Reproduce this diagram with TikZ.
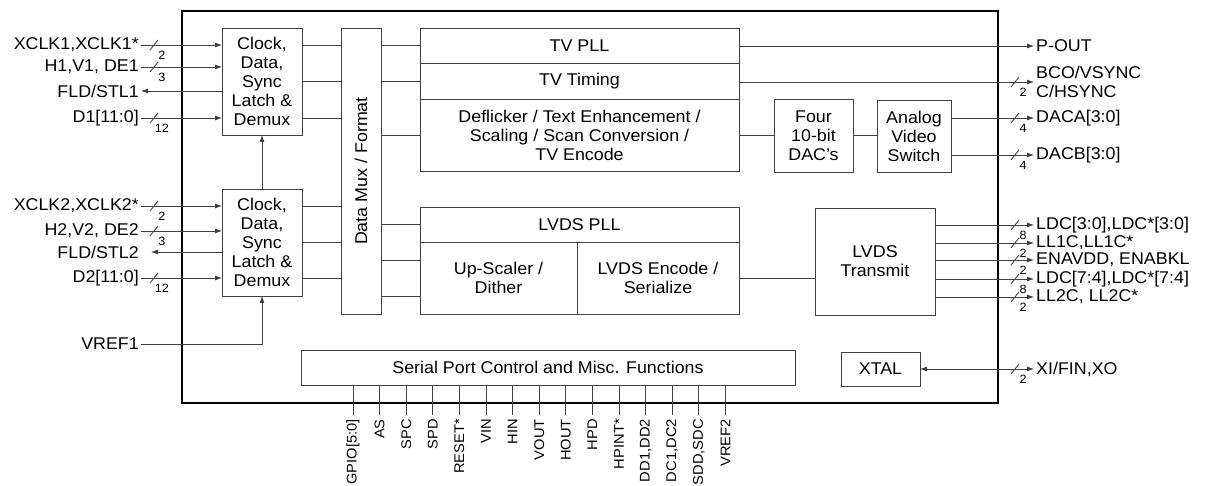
\documentclass[tikz,border=0pt]{standalone}
\usepackage{fontspec}
\setmainfont{Liberation Sans}[FakeStretch=1.05]
\usetikzlibrary{positioning}
\usetikzlibrary{arrows.meta}
\newcommand{\lbl}{\fontsize{17}{19}\selectfont}
\newcommand{\pinf}{\fontsize{14}{15}\selectfont}
\newcommand{\busf}{\fontsize{12}{12}\selectfont}
\tikzset{
  blk/.style={draw=black!75, line width=0.8pt, inner sep=0pt, outer sep=0pt, align=center, font=\lbl},
  wire/.style={draw=black!75, line width=0.8pt},
  inl/.style={anchor=east, inner sep=2pt, font=\lbl},
  outl/.style={anchor=west, inner sep=2pt, font=\lbl, align=left},
  pinl/.style={rotate=90, anchor=east, inner sep=1pt, font=\pinf},
  pics/bus/.style={code={
    \draw[wire] (-4,5) -- (4,-5);
    \node[font=\busf, inner sep=0pt] at (8,10) {#1};}}
}
\begin{document}
\begin{tikzpicture}[x=1pt, y=-1pt, >={Latex[length=7pt,width=5pt]}]
  \useasboundingbox (0,0) rectangle (1211,486);
  \node[draw, line width=2.5pt, minimum width=816pt, minimum height=392pt, inner sep=0pt] (chip) at (590,207) {};

  % latches and mux
  \node[blk, minimum width=80pt, minimum height=107pt] (clk1) at (262,81.5) {Clock,\\Data,\\Sync\\Latch \&\\Demux};
  \node[blk, minimum width=80pt, minimum height=107pt] (clk2) at (262,242.5) {Clock,\\Data,\\Sync\\Latch \&\\Demux};
  \node[blk, minimum width=40pt, minimum height=286pt] (mux) at (361,171) {};
  \node[rotate=90, font=\lbl] (muxlbl) at (mux) {Data Mux / Format};

  % TV path
  \node[blk, minimum width=319pt, minimum height=35pt] (tvpll) at (579.5,45.5) {TV PLL};
  \node[blk, minimum width=319pt, minimum height=36pt, below=0pt of tvpll] (tvtim) {TV Timing};
  \node[blk, minimum width=319pt, minimum height=72pt, below=0pt of tvtim] (defl) {Deflicker / Text Enhancement /\\Scaling / Scan Conversion /\\TV Encode};
  \node[blk, minimum width=79pt, minimum height=73pt] (dac) at (813.5,135.5) {Four\\10-bit\\DAC's};
  \node[blk, minimum width=74pt, minimum height=72pt] (avs) at (914,136) {Analog\\Video\\Switch};

  % LVDS path
  \node[blk, minimum width=319pt, minimum height=35pt] (lvdspll) at (579.5,224.5) {LVDS PLL};
  \node[blk, minimum width=157pt, minimum height=72pt, below=0pt of lvdspll.south west, anchor=north west] (upsc) {Up-Scaler /\\Dither};
  \node[blk, minimum width=162pt, minimum height=72pt, right=0pt of upsc] (lvdsenc) {LVDS Encode /\\Serialize};
  \node[blk, minimum width=120pt, minimum height=107pt] (lvdstx) at (875,261.5) {LVDS\\Transmit};

  \node[blk, minimum width=79pt, minimum height=34pt] (xtal) at (880.5,369) {XTAL};
  \node[blk, minimum width=494pt, minimum height=35pt] (serial) at (548,367.5) {Serial Port Control and Misc. Functions};

  % inputs
  \node[inl] (xclk1) at (141,45) {XCLK1,XCLK1*};
  \node[inl] (hv1) at (141,67) {H1,V1, DE1};
  \node[inl] (fld1) at (141,91) {FLD/STL1};
  \node[inl] (d1) at (141,118) {D1[11:0]};
  \node[inl] (xclk2) at (141,206) {XCLK2,XCLK2*};
  \node[inl] (hv2) at (141,231) {H2,V2, DE2};
  \node[inl] (fld2) at (141,252) {FLD/STL2};
  \node[inl] (d2) at (141,278) {D2[11:0]};
  \node[inl] (vref1) at (141,344) {VREF1};

  \draw[wire,->] (xclk1.east) -- (xclk1.east -| clk1.west);
  \draw[wire,->] (hv1.east) -- (hv1.east -| clk1.west);
  \draw[wire,->] (fld1.east -| clk1.west) -- (fld1.east);
  \draw[wire,->] (d1.east) -- (d1.east -| clk1.west);
  \draw[wire,->] (xclk2.east) -- (xclk2.east -| clk2.west);
  \draw[wire,->] (hv2.east) -- (hv2.east -| clk2.west);
  \draw[wire,->] (fld2.east -| clk2.west) -- ([xshift=10pt]fld2.east);
  \draw[wire,->] (d2.east) -- (d2.east -| clk2.west);
  \draw[wire,->] (vref1.east) -| (clk2.south);
  \draw[wire,->] (clk2.north) -- (clk1.south);
  \pic at ([xshift=13pt]xclk1.east) {bus=2};
  \pic at ([xshift=13pt]hv1.east) {bus=3};
  \pic at ([xshift=13pt]d1.east) {bus=12};
  \pic at ([xshift=13pt]xclk2.east) {bus=2};
  \pic at ([xshift=13pt]hv2.east) {bus=3};
  \pic at ([xshift=13pt]d2.east) {bus=12};

  % internal wires
  \foreach \y in {45,81,118} \draw[wire] (clk1.east |- 0,\y) -- (mux.west |- 0,\y);
  \foreach \y in {206,242,278} \draw[wire] (clk2.east |- 0,\y) -- (mux.west |- 0,\y);
  \draw[wire] (mux.east |- tvpll.west) -- (tvpll.west);
  \draw[wire] (mux.east |- tvtim.west) -- (tvtim.west);
  \draw[wire] (mux.east |- defl.west) -- (defl.west);
  \draw[wire] (mux.east |- lvdspll.west) -- (lvdspll.west);
  \draw[wire] (mux.east |- 0,260) -- (upsc.west |- 0,260);
  \draw[wire] (mux.east |- 0,296) -- (upsc.west |- 0,296);
  \draw[wire] (defl.east) -- (defl.east -| dac.west);
  \draw[wire] (dac.east) -- (dac.east -| avs.west);
  \draw[wire] (lvdsenc.east) -- (lvdsenc.east -| lvdstx.west);

  % outputs
  \node[outl] (pout) at (1034,46) {P-OUT};
  \node[outl] (bco) at (1034,82) {BCO/VSYNC\\C/HSYNC};
  \node[outl] (daca) at (1034,118) {DACA[3:0]};
  \node[outl] (dacb) at (1034,155) {DACB[3:0]};
  \node[outl] (ldc1) at (1034,225) {LDC[3:0],LDC*[3:0]};
  \node[outl] (ll1c) at (1034,243) {LL1C,LL1C*};
  \node[outl] (ena) at (1034,260) {ENAVDD, ENABKL};
  \node[outl] (ldc2) at (1034,279) {LDC[7:4],LDC*[7:4]};
  \node[outl] (ll2c) at (1034,297) {LL2C, LL2C*};
  \node[outl] (xi) at (1034,369) {XI/FIN,XO};

  \draw[wire,->] (tvpll.east |- pout.west) -- (pout.west);
  \draw[wire,->] (tvtim.east |- bco.west) -- (bco.west);
  \draw[wire,->] (avs.east |- daca.west) -- (daca.west);
  \draw[wire,->] (avs.east |- dacb.west) -- (dacb.west);
  \draw[wire,->] (lvdstx.east |- ldc1.west) -- (ldc1.west);
  \draw[wire,->] (lvdstx.east |- ll1c.west) -- (ll1c.west);
  \draw[wire,->] (lvdstx.east |- ena.west) -- (ena.west);
  \draw[wire,->] (lvdstx.east |- ldc2.west) -- (ldc2.west);
  \draw[wire,->] (lvdstx.east |- ll2c.west) -- (ll2c.west);
  \draw[wire,<->] (xtal.east) -- (xtal.east -| xi.west);
  \pic at ([xshift=-19pt]bco.west) {bus=2};
  \pic at ([xshift=-19pt]daca.west) {bus=4};
  \pic at ([xshift=-19pt]dacb.west) {bus=4};
  \pic at ([xshift=-19pt]ldc1.west) {bus=8};
  \pic at ([xshift=-19pt]ll1c.west) {bus=2};
  \pic at ([xshift=-19pt]ena.west) {bus=2};
  \pic at ([xshift=-19pt]ldc2.west) {bus=8};
  \pic at ([xshift=-19pt]ll2c.west) {bus=2};
  \pic at ([xshift=-19pt]xtal.east -| xi.west) {bus=2};

  % serial port pins
  \foreach \p [count=\i from 0] in {GPIO[5:0],AS,SPC,SPD,RESET*,VIN,HIN,VOUT,HOUT,HPD,HPINT*,{DD1,DD2},{DC1,DC2},{SDD,SDC},VREF2} {
    \pgfmathsetmacro\px{353+26.6*\i}
    \node[pinl] (pin\i) at (\px,418) {\p};
    \draw[wire] (pin\i.east |- serial.south) -- (pin\i.east |- 0,415);
  }
\end{tikzpicture}
\end{document}
